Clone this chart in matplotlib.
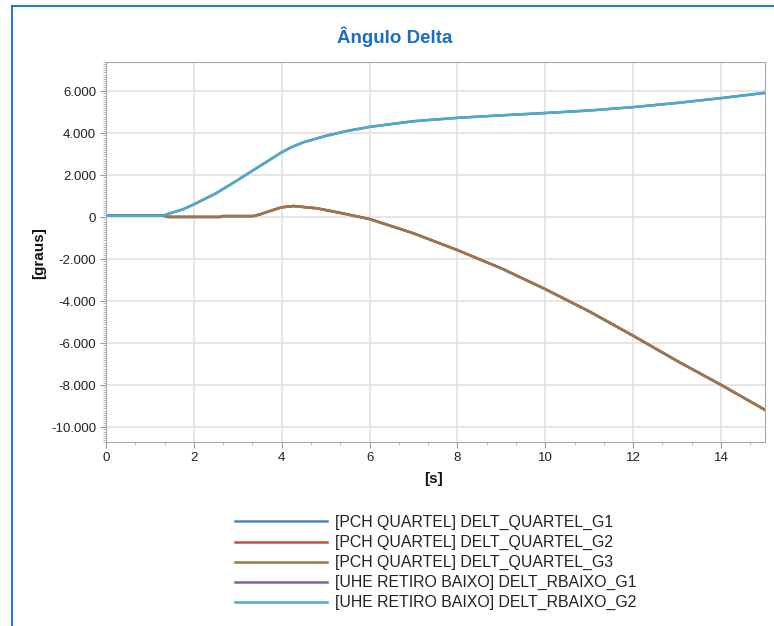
import matplotlib
matplotlib.use("Agg")
import matplotlib.pyplot as plt
from matplotlib.ticker import MultipleLocator, FuncFormatter
from matplotlib.lines import Line2D

plt.rcParams['font.family'] = ['Liberation Sans', 'DejaVu Sans']

# tempo [s] e angulo [graus]
t_quartel = [0, 1.3, 1.4, 2.6, 2.65, 3.35, 3.5, 3.73, 4.0, 4.27, 4.8, 5.1, 5.5,
             6, 7, 8, 9, 10, 11, 12, 13, 14, 15]
delt_quartel_g1 = [0.08, 0.08, 0.02, 0.02, 0.06, 0.06, 0.14, 0.30, 0.48, 0.54, 0.43, 0.31, 0.14,
                   -0.08, -0.76, -1.56, -2.43, -3.42, -4.48, -5.64, -6.84, -7.98, -9.17]
delt_quartel_g2 = [0.08, 0.08, 0.02, 0.02, 0.06, 0.06, 0.14, 0.30, 0.48, 0.54, 0.43, 0.31, 0.14,
                   -0.08, -0.76, -1.56, -2.43, -3.42, -4.48, -5.64, -6.84, -7.98, -9.17]
delt_quartel_g3 = [0.08, 0.08, 0.02, 0.02, 0.06, 0.06, 0.14, 0.30, 0.48, 0.54, 0.43, 0.31, 0.14,
                   -0.08, -0.76, -1.56, -2.43, -3.42, -4.48, -5.64, -6.84, -7.98, -9.17]

t_rbaixo = [0, 1.3, 1.5, 1.75, 2, 2.5, 3, 3.5, 4, 4.25, 4.5, 5, 5.5, 6,
            7, 8, 9, 10, 11, 12, 13, 14, 15]
delt_rbaixo_g1 = [0.08, 0.08, 0.22, 0.38, 0.62, 1.14, 1.78, 2.44, 3.10, 3.37, 3.58, 3.88, 4.12, 4.31,
                  4.58, 4.74, 4.86, 4.97, 5.09, 5.25, 5.45, 5.68, 5.93]
delt_rbaixo_g2 = [0.08, 0.08, 0.22, 0.38, 0.62, 1.14, 1.78, 2.44, 3.10, 3.37, 3.58, 3.88, 4.12, 4.31,
                  4.58, 4.74, 4.86, 4.97, 5.09, 5.25, 5.45, 5.68, 5.93]

labels = ["[PCH QUARTEL] DELT_QUARTEL_G1",
          "[PCH QUARTEL] DELT_QUARTEL_G2",
          "[PCH QUARTEL] DELT_QUARTEL_G3",
          "[UHE RETIRO BAIXO] DELT_RBAIXO_G1",
          "[UHE RETIRO BAIXO] DELT_RBAIXO_G2"]
colors = ['#4F81BD', '#C0504D', '#98784E', '#8064A2', '#4BACC6']

fig = plt.figure(figsize=(7.74, 6.26), dpi=100)
ax = fig.add_axes([106/774, 1-442/626, 659/774, 380/626])

series = [(t_quartel, delt_quartel_g1), (t_quartel, delt_quartel_g2), (t_quartel, delt_quartel_g3),
          (t_rbaixo, delt_rbaixo_g1), (t_rbaixo, delt_rbaixo_g2)]
for (t, v), c, l in zip(series, colors, labels):
    ax.plot(t, v, color=c, lw=1.8, label=l)

ax.set_xlim(0, 15)
ax.set_ylim(-10.7, 7.4)
ax.xaxis.set_major_locator(MultipleLocator(2))
ax.xaxis.set_minor_locator(MultipleLocator(2/3))
ax.yaxis.set_major_locator(MultipleLocator(2))
ax.yaxis.set_minor_locator(MultipleLocator(0.1))
ax.yaxis.set_major_formatter(FuncFormatter(lambda v, p: "0" if abs(v) < 1e-9 else "{:.3f}".format(v)))

ax.grid(True, which='major', color='#e2e2e2', lw=1.2)
ax.set_axisbelow(True)
for s in ax.spines.values():
    s.set_color('#a8a8a8')
ax.tick_params(which='major', length=4, color='#999999', labelsize=9.5, labelcolor='#222222', pad=3)
ax.tick_params(which='minor', length=2.5, color='#b0b0b0')

fig.text(395/774, 1-37/626, "Ângulo Delta", ha='center', va='center',
         fontsize=13.5, fontweight='bold', color='#1A6FC4')
fig.text(39/774, 1-253/626, "[graus]", rotation=90, ha='center', va='center',
         fontsize=11, fontweight='bold', color='#111111')
fig.text(434/774, 1-479/626, "[s]", ha='center', va='center',
         fontsize=11, fontweight='bold', color='#111111')

leg = fig.legend(loc='upper left', bbox_to_anchor=(235/774, 1-515/626), frameon=False,
                 fontsize=11.4, handlelength=5.8, handletextpad=0.5, labelspacing=0.31,
                 borderpad=0, borderaxespad=0)
for txt in leg.get_texts():
    txt.set_color('#222222')

# borda azul da janela
fig.add_artist(Line2D([11.5/774, 11.5/774], [0, 1-6/626], color='#0A6ED1', lw=1.3))
fig.add_artist(Line2D([11.5/774, 1], [1-6/626, 1-6/626], color='#0A6ED1', lw=1.3))

fig.savefig("out.png", dpi=100)
